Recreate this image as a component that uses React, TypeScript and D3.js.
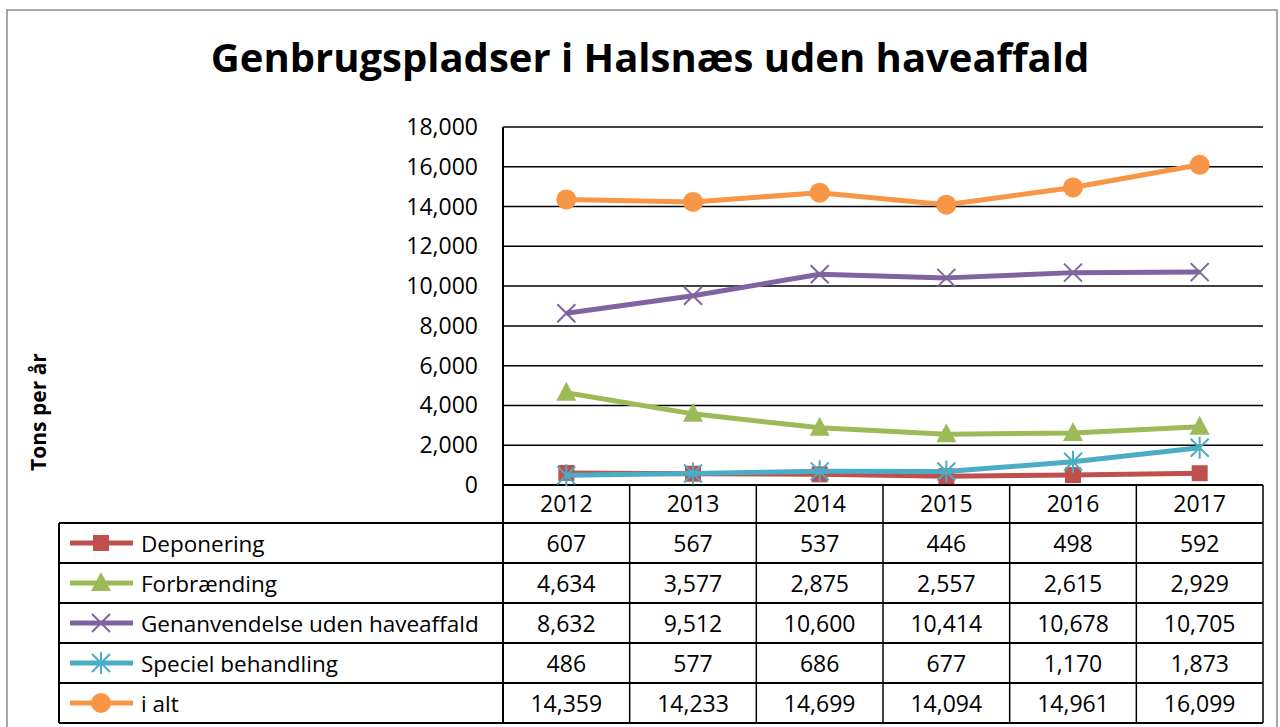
import React from "react";
import { scaleBand, scaleLinear, line, format } from "d3";

const years = ["2012", "2013", "2014", "2015", "2016", "2017"];
const deponering = [607, 567, 537, 446, 498, 592];
const forbraending = [4634, 3577, 2875, 2557, 2615, 2929];
const genanvendelse = [8632, 9512, 10600, 10414, 10678, 10705];
const speciel = [486, 577, 686, 677, 1170, 1873];
const iAlt = [14359, 14233, 14699, 14094, 14961, 16099];
const yTicks = [0, 2000, 4000, 6000, 8000, 10000, 12000, 14000, 16000, 18000];

const series = [
  { name: "Deponering", values: deponering, color: "#C0504D", marker: "square" },
  { name: "Forbrænding", values: forbraending, color: "#9BBB59", marker: "triangle" },
  { name: "Genanvendelse uden haveaffald", values: genanvendelse, color: "#8064A2", marker: "x" },
  { name: "Speciel behandling", values: speciel, color: "#4BACC6", marker: "star" },
  { name: "i alt", values: iAlt, color: "#F79646", marker: "circle" },
];

const FONT = "'Open Sans', 'Noto Sans', sans-serif";

function Marker({ type, x, y, color }: { type: string; x: number; y: number; color: string }) {
  if (type === "square") return <rect x={x - 8} y={y - 8} width={16} height={16} fill={color} />;
  if (type === "circle") return <circle cx={x} cy={y} r={10} fill={color} />;
  if (type === "triangle")
    return <path d={`M${x},${y - 11}L${x + 10},${y + 8}L${x - 10},${y + 8}Z`} fill={color} />;
  if (type === "x")
    return (
      <path d={`M${x - 9},${y - 9}L${x + 9},${y + 9}M${x + 9},${y - 9}L${x - 9},${y + 9}`} stroke={color} strokeWidth={2} />
    );
  // asterisk
  return (
    <path
      d={`M${x - 9},${y - 9}L${x + 9},${y + 9}M${x + 9},${y - 9}L${x - 9},${y + 9}M${x},${y - 11}L${x},${y + 11}`}
      stroke={color}
      strokeWidth={2}
    />
  );
}

export default function App() {
  const left = 503, right = 1263, top = 127, bottom = 485;
  const x = scaleBand<string>().domain(years).range([left, right]).padding(0);
  const y = scaleLinear().domain([0, 18000]).range([bottom, top]);
  const cx = (i: number) => (x(years[i]) as number) + x.bandwidth() / 2;
  const path = line<number>().x((_, i) => cx(i)).y((d) => y(d));
  const fmt = format(",");

  const headerH = 38;
  const rowH = 40;
  const tableLeft = 59;
  const rowTop = (i: number) => bottom + headerH + i * rowH;

  return (
    <svg width={1280} height={727} style={{ position: "absolute", left: 0, top: 0, background: "#fff" }} fontFamily={FONT}>
      <rect x={7} y={10} width={1270} height={730} fill="#fff" stroke="#8c8c8c" strokeWidth={1.5} />
      <text x={650} y={72} textAnchor="middle" fontSize={40} fontWeight="bold" fill="#000">
        Genbrugspladser i Halsnæs uden haveaffald
      </text>
      <text transform="translate(46,412) rotate(-90)" textAnchor="middle" fontSize={21} fontWeight="bold">
        Tons per år
      </text>

      {/* gridlines */}
      {yTicks.map((t) => (
        <g key={t}>
          <line x1={left} x2={right} y1={y(t)} y2={y(t)} stroke="#000" strokeWidth={t === 0 ? 2 : 1.5} />
          <text x={478} y={y(t) + 8} textAnchor="end" fontSize={23}>
            {fmt(t)}
          </text>
        </g>
      ))}
      <line x1={left} x2={left} y1={top} y2={rowTop(5)} stroke="#000" strokeWidth={2} />

      {/* table */}
      {years.map((yr, i) => (
        <g key={yr}>
          <line x1={(x(yr) as number) + x.bandwidth()} x2={(x(yr) as number) + x.bandwidth()} y1={bottom} y2={rowTop(5)} stroke="#000" strokeWidth={1.5} />
          <text x={cx(i)} y={bottom + 27} textAnchor="middle" fontSize={23}>
            {yr}
          </text>
        </g>
      ))}
      <line x1={tableLeft} x2={tableLeft} y1={rowTop(0)} y2={rowTop(5)} stroke="#000" strokeWidth={2} />
      {[0, 1, 2, 3, 4, 5].map((r) => (
        <line key={r} x1={tableLeft} x2={right} y1={rowTop(r)} y2={rowTop(r)} stroke="#000" strokeWidth={2} />
      ))}
      {series.map((s, r) => (
        <g key={s.name}>
          <line x1={70} x2={133} y1={rowTop(r) + rowH / 2} y2={rowTop(r) + rowH / 2} stroke={s.color} strokeWidth={5} />
          <Marker type={s.marker} x={101} y={rowTop(r) + rowH / 2} color={s.color} />
          <text x={141} y={rowTop(r) + 29} fontSize={22.5}>
            {s.name}
          </text>
          {s.values.map((v, i) => (
            <text key={i} x={cx(i)} y={rowTop(r) + 29} textAnchor="middle" fontSize={23}>
              {fmt(v)}
            </text>
          ))}
        </g>
      ))}

      {/* series */}
      {series.map((s) => (
        <g key={s.name}>
          <path d={path(s.values) as string} fill="none" stroke={s.color} strokeWidth={5} strokeLinejoin="round" />
          {s.values.map((v, i) => (
            <Marker key={i} type={s.marker} x={cx(i)} y={y(v)} color={s.color} />
          ))}
        </g>
      ))}
    </svg>
  );
}
